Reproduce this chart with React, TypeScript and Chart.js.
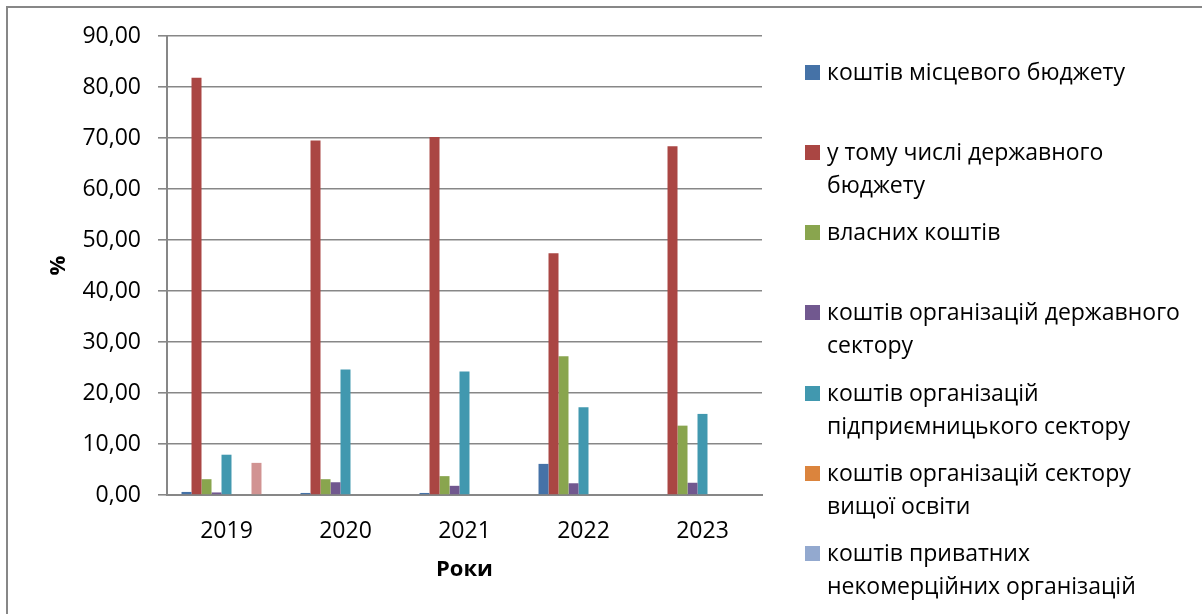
import React, { useEffect, useRef } from "react";
import { Chart, registerables } from "chart.js";

Chart.register(...registerables);

const years = ["2019", "2020", "2021", "2022", "2023"];

const seriesLabels = [
  "коштів місцевого бюджету",
  "у тому числі державного\nбюджету",
  "власних коштів",
  "коштів організацій державного\nсектору",
  "коштів організацій\nпідприємницького сектору",
  "коштів організацій сектору\nвищої освіти",
  "коштів приватних\nнекомерційних організацій",
  "коштів іноземних джерел",
  "інших джерел",
];

const seriesColors = [
  "#4572A7",
  "#AA4643",
  "#89A54E",
  "#71588F",
  "#4198AF",
  "#DB843D",
  "#93A9CF",
  "#D19392",
  "#B9CD96",
];

const localBudget = [0.6, 0.4, 0.4, 6.1, 0];
const stateBudget = [81.8, 69.5, 70.2, 47.4, 68.4];
const ownFunds = [3.1, 3.1, 3.7, 27.2, 13.6];
const stateSector = [0.5, 2.5, 1.8, 2.3, 2.4];
const businessSector = [7.9, 24.6, 24.2, 17.2, 15.9];
const higherEducation = [0, 0, 0, 0, 0];
const privateNonProfit = [0, 0, 0, 0, 0];
const foreignSources = [6.3, 0, 0, 0, 0];
const otherSources = [0, 0, 0, 0, 0];

const seriesValues = [
  localBudget,
  stateBudget,
  ownFunds,
  stateSector,
  businessSector,
  higherEducation,
  privateNonProfit,
  foreignSources,
  otherSources,
];

const yMin = 0;
const yMax = 90;
const yStep = 10;
const xTitle = "Роки";
const yTitle = "%";

const FONT = "'Open Sans', sans-serif";
const GRID = "#878787";

export default function App() {
  const canvasRef = useRef<HTMLCanvasElement | null>(null);

  useEffect(() => {
    if (!canvasRef.current) return;
    const chart = new Chart(canvasRef.current, {
      type: "bar",
      data: {
        labels: years,
        datasets: seriesValues.map((vals, i) => ({
          label: seriesLabels[i].replace("\n", " "),
          data: vals,
          backgroundColor: seriesColors[i],
          borderWidth: 0,
          categoryPercentage: 0.756,
          barPercentage: 1,
        })),
      },
      options: {
        animation: false,
        responsive: false,
        maintainAspectRatio: false,
        layout: { padding: { left: 0, top: 36, right: 440, bottom: 0 } },
        plugins: { legend: { display: false }, tooltip: { enabled: false } },
        scales: {
          x: {
            grid: { display: false },
            border: { display: true, color: GRID, width: 2 },
            ticks: { color: "#000", font: { family: FONT, size: 23 }, padding: 15 },
            title: {
              display: true,
              text: xTitle,
              color: "#000",
              font: { family: FONT, size: 22, weight: "bold" },
              padding: { top: 0, bottom: 31 },
            },
            afterFit: (scale: any) => {
              scale.height = 119;
            },
          },
          y: {
            min: yMin,
            max: yMax,
            grid: { color: GRID, lineWidth: 1.6, tickLength: 9 },
            border: { display: true, color: GRID, width: 2 },
            ticks: {
              stepSize: yStep,
              color: "#000",
              padding: 17,
              font: { family: FONT, size: 23 },
              callback: (v: any) => Number(v).toFixed(2).replace(".", ","),
            },
            title: {
              display: true,
              text: yTitle,
              color: "#000",
              font: { family: FONT, size: 22, weight: "bold" },
              padding: { top: 46, bottom: 0 },
            },
            afterFit: (scale: any) => {
              scale.width = 167;
            },
          },
        },
      },
    });
    return () => chart.destroy();
  }, []);

  const legendTop = 72;
  const legendStep = 80.3;

  return (
    <div
      style={{
        position: "fixed",
        left: 0,
        top: 0,
        width: 1202,
        height: 614,
        overflow: "hidden",
        background: "#fff",
      }}
    >
      <div
        style={{
          position: "absolute",
          left: 6,
          top: 6,
          width: 1400,
          height: 800,
          border: `2px solid ${GRID}`,
          boxSizing: "border-box",
        }}
      />
      <canvas
        ref={canvasRef}
        width={1202}
        height={614}
        style={{ position: "absolute", left: 0, top: 0, width: 1202, height: 614 }}
      />
      {seriesLabels.map((lab, i) => {
        const cy = legendTop + legendStep * i;
        return (
          <div key={i}>
            <div
              style={{
                position: "absolute",
                left: 805,
                top: cy - 7.5,
                width: 15,
                height: 15,
                background: seriesColors[i],
              }}
            />
            <div
              style={{
                position: "absolute",
                left: 827,
                top: cy - 17.5,
                fontFamily: FONT,
                fontSize: 23,
                lineHeight: "33px",
                whiteSpace: "pre",
                color: "#000",
              }}
            >
              {lab}
            </div>
          </div>
        );
      })}
    </div>
  );
}
